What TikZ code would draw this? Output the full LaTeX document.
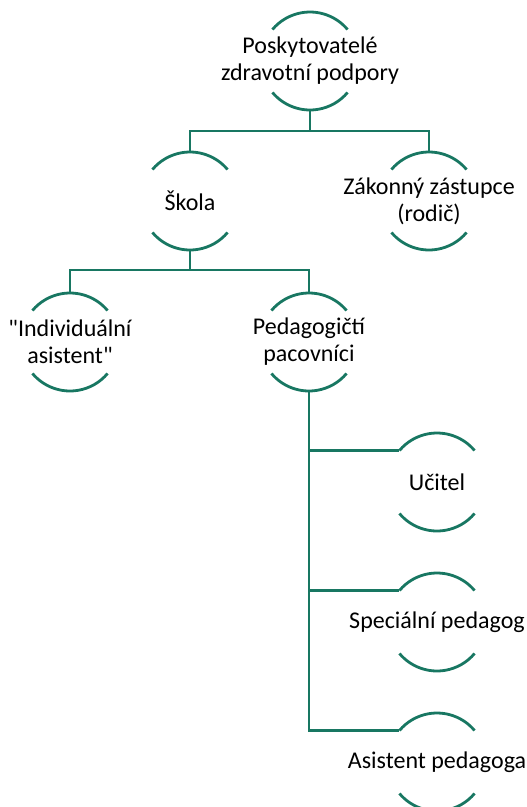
\documentclass[tikz,border=0pt]{standalone}
\usepackage{fontspec}
\setmainfont{Carlito}[Ligatures=TeXOff]
\definecolor{zelena}{RGB}{24,119,98}
\tikzset{
  kruh/.style={circle, minimum size=98pt, inner sep=0pt, outer sep=0pt},
  popis/.style={align=center, inner sep=0pt, font=\fontsize{24}{27}\selectfont},
  spoj/.style={zelena, line width=2.8pt}
}
\begin{document}
\begin{tikzpicture}[x=1pt,y=1pt]
\useasboundingbox (0,0) rectangle (527,-807);
% circles
\node[kruh] (posk) at (310,-61) {};
\node[kruh] (skola) at (190,-201) {};
\node[kruh] (zakon) at (429,-201) {};
\node[kruh] (indiv) at (70,-342) {};
\node[kruh] (pedag) at (309,-342) {};
\node[kruh] (ucitel) at (437,-482) {};
\node[kruh] (special) at (437,-622) {};
\node[kruh] (asist) at (437,-762) {};
% texts
\node[popis] (posk-t) at (posk) {Poskytovatelé\\zdravotní podpory};
\node[popis] (skola-t) at (skola) {Škola};
\node[popis] (zakon-t) at (zakon) {Zákonný zástupce\\(rodič)};
\node[popis] (indiv-t) at (indiv) {"Individuální\\asistent"};
\node[popis] (pedag-t) at (pedag) {Pedagogičtí\\pacovníci};
\node[popis] (ucitel-t) at (ucitel) {Učitel};
\node[popis] (special-t) at (special) {Speciální pedagog};
\node[popis] (asist-t) at (asist) {Asistent pedagoga};
% arcs
\foreach \n in {posk,skola,zakon,indiv,pedag,ucitel,special,asist}{
  \draw[spoj] (\n.40) arc (40:140:49);
  \draw[spoj] (\n.220) arc (220:320:49);
}
% connectors
\draw[spoj] (posk.south) -- ++(0,-21) -| (skola.north);
\draw[spoj] (posk.south) -- ++(0,-21) -| (zakon.north);
\draw[spoj] (skola.south) -- ++(0,-20) -| (indiv.north);
\draw[spoj] (skola.south) -- ++(0,-20) -| (pedag.north);
\foreach \n in {ucitel,special,asist}
  \draw[spoj] (pedag.south) |- (\n.140);
\end{tikzpicture}
\end{document}
